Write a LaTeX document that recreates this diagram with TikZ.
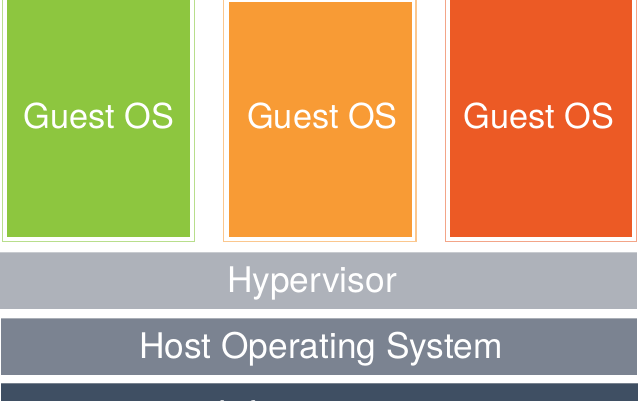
\documentclass[tikz,border=0pt]{standalone}
\usepackage{fontspec}
\setmainfont{TeX Gyre Heros}
\definecolor{gfill}{RGB}{141,198,63}
\definecolor{gline}{RGB}{184,222,140}
\definecolor{ofill}{RGB}{248,155,53}
\definecolor{oline}{RGB}{251,199,142}
\definecolor{rfill}{RGB}{236,90,37}
\definecolor{rline}{RGB}{243,165,136}
\definecolor{hyp}{RGB}{174,178,186}
\definecolor{hyptop}{RGB}{200,203,208}
\definecolor{host}{RGB}{123,131,145}
\definecolor{hosttop}{RGB}{170,175,183}
\definecolor{infra}{RGB}{63,79,99}
\definecolor{infratop}{RGB}{120,130,143}
\tikzset{
  x=1pt, y=-1pt,
  lbl/.style={text=white, font=\fontsize{34.3}{40}\selectfont, inner sep=0pt, anchor=base},
  barlbl/.style={lbl, font=\fontsize{35.3}{40}\selectfont},
  guestline/.style={line width=1.4pt},
}
\begin{document}
\begin{tikzpicture}
\useasboundingbox (0,0) rectangle (638,400);
\clip (0,0) rectangle (638,400);
\fill[white] (0,0) rectangle (638,400);
% guest OS boxes
\draw[guestline, gline] (2.7,-5) rectangle (194.5,241.5);
\fill[gfill] (7,-2) rectangle (190,237);
\node[lbl] (g) at (99,128) {Guest OS};
\draw[guestline, oline] (223.7,-5) rectangle (416,241.5);
\fill[ofill] (229,1.5) rectangle (412,237);
\node[lbl] (o) at (322.5,128) {Guest OS};
\draw[guestline, rline] (445.7,-5) rectangle (636.5,241.5);
\fill[rfill] (450,-2) rectangle (632,237);
\node[lbl] (r) at (539,128) {Guest OS};
% layers
\fill[hyp] (0,252.3) rectangle (637,309);
\draw[hyptop, line width=0.8pt] (0,252.7) -- (637,252.7);
\node[barlbl] (h) at (312,292.5) {Hypervisor};
\fill[host] (1,318.3) rectangle (637,375);
\draw[hosttop, line width=0.8pt] (1,318.7) -- (637,318.7);
\node[barlbl] (hs) at (321,358.5) {Host Operating System};
\fill[infra] (1,382.7) rectangle (638,405);
\draw[infratop, line width=0.8pt] (1,383.1) -- (638,383.1);
\node[barlbl] (i) at (321,426.5) {Infrastructure};
\end{tikzpicture}
\end{document}
